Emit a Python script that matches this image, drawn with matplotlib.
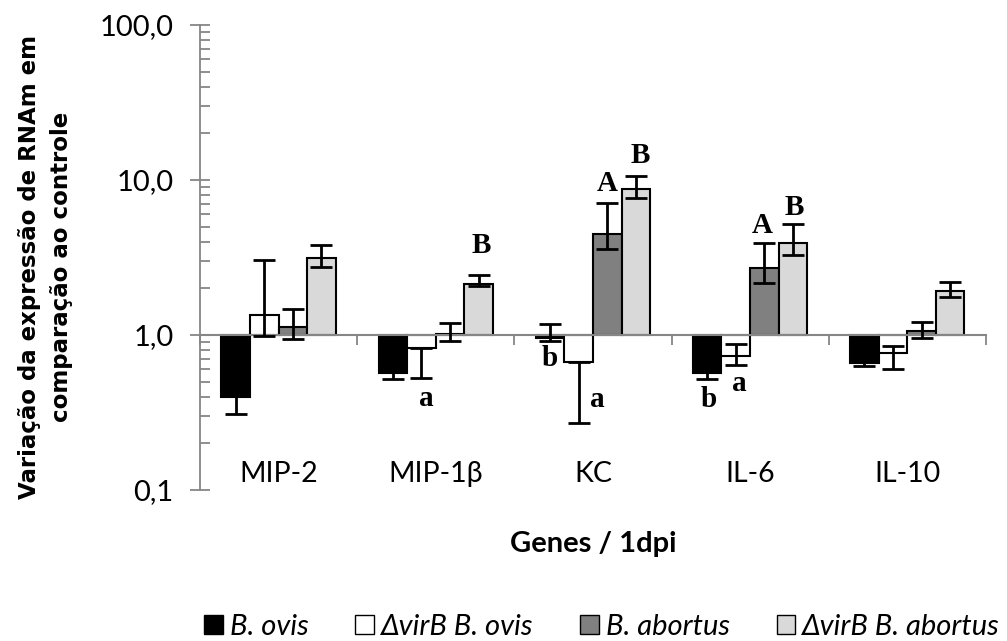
import numpy as np
import matplotlib.pyplot as plt
from matplotlib.patches import Patch
from matplotlib.ticker import FixedLocator, FuncFormatter, LogLocator

plt.rcParams["font.family"] = ["Lato", "DejaVu Sans"]

# Data (fold change vs control)
genes = ["MIP-2", "MIP-1β", "KC", "IL-6", "IL-10"]
series = ["B. ovis", "ΔvirB B. ovis", "B. abortus", "ΔvirB B. abortus"]
colors = ["#000000", "#FFFFFF", "#808080", "#D9D9D9"]

b_ovis = [0.40, 0.57, 0.96, 0.57, 0.66]
virb_ovis = [1.35, 0.82, 0.67, 0.73, 0.77]
b_abortus = [1.12, 1.02, 4.48, 2.69, 1.06]
virb_abortus = [3.15, 2.13, 8.75, 3.91, 1.93]

# error bar ends (low, high) as drawn
err_low = [
    [0.31, 0.52, 0.92, 0.52, 0.63],
    [0.99, 0.53, 0.27, 0.64, 0.60],
    [0.94, 0.91, 3.59, 2.16, 0.95],
    [2.76, 2.08, 7.65, 3.27, 1.77],
]
err_high = [
    [0.49, 0.62, 1.17, 0.62, 0.69],
    [3.05, 0.82, 0.67, 0.875, 0.845],
    [1.48, 1.19, 7.07, 3.92, 1.21],
    [3.83, 2.43, 10.66, 5.18, 2.19],
]

# significance letters: (gene index, slot within group, baseline value, letter)
letters = [
    (1, 3.1, 3.38, "B"), (1, 1.17, 0.35, "a"),
    (2, 0.0, 0.634, "b"), (2, 1.64, 0.341, "a"), (2, 2.0, 8.53, "A"), (2, 3.15, 12.9, "B"),
    (3, 0.07, 0.341, "b"), (3, 1.12, 0.437, "a"), (3, 1.92, 4.55, "A"), (3, 3.05, 5.94, "B"),
]

values = [b_ovis, virb_ovis, b_abortus, virb_abortus]

fig = plt.figure(figsize=(10.07, 6.41), dpi=100)
ax = fig.add_axes([0.1986, 0.2356, 0.7804, 0.7254])

x = np.arange(len(genes))
w = 0.182
axis_gray = "#868686"

for j, vals in enumerate(values):
    pos = x + (j - 1.5) * w
    v = np.array(vals)
    ax.bar(pos, v - 1, bottom=1, width=w, color=colors[j],
           edgecolor="black", linewidth=1.5, zorder=2)
    lo = v - np.array(err_low[j])
    hi = np.array(err_high[j]) - v
    ax.errorbar(pos, v, yerr=[lo, hi], fmt="none", ecolor="black",
                elinewidth=2, capsize=8, capthick=2, zorder=4)

ax.set_yscale("log")
ax.set_ylim(0.1, 100)
ax.set_xlim(-0.5, len(genes) - 0.5)

ax.yaxis.set_major_locator(FixedLocator([0.1, 1, 10, 100]))
ax.yaxis.set_major_formatter(FuncFormatter(lambda v, p: f"{v:.1f}".replace(".", ",")))
ax.yaxis.set_minor_locator(LogLocator(base=10, subs=np.arange(2, 10)))
ax.yaxis.set_minor_formatter(FuncFormatter(lambda v, p: ""))
ax.tick_params(axis="y", which="major", direction="inout", length=14, width=1.3,
               color=axis_gray, labelsize=21, pad=12)
ax.tick_params(axis="y", which="minor", direction="in", length=7, width=1.3,
               color=axis_gray)

ax.spines["top"].set_visible(False)
ax.spines["right"].set_visible(False)
ax.spines["left"].set_color(axis_gray)
ax.spines["left"].set_linewidth(1.3)
ax.spines["bottom"].set_position(("data", 1))
ax.spines["bottom"].set_color(axis_gray)
ax.spines["bottom"].set_linewidth(1.5)
ax.spines["bottom"].set_zorder(3)

ax.set_xticks(np.arange(len(genes) + 1) - 0.5)
ax.set_xticklabels([])
ax.tick_params(axis="x", direction="out", length=7, width=1.3, color=axis_gray)

for i, g in enumerate(genes):
    ax.text(i, 0.113, g, ha="center", va="baseline", fontsize=20.5)

for i, j, yv, t in letters:
    ax.text(i + (j - 1.5) * w, yv, t, ha="center", va="baseline", fontsize=21,
            fontweight="bold", family="Liberation Serif")

fig.text(0.5894, 0.1393, "Genes / 1dpi", ha="center", va="baseline",
         fontsize=21, fontweight="bold")
fig.text(0.0452, 0.583, "Variação da expressão de RNAm em\ncomparação ao controle",
         ha="center", va="center", rotation=90, fontsize=16.5,
         fontweight="bold", linespacing=1.55, family="DejaVu Sans")

handles = [Patch(facecolor=c, edgecolor="black", linewidth=1) for c in colors]
fig.legend(handles, series, loc="center", bbox_to_anchor=(0.598, 0.022), ncol=4,
           frameon=False, prop={"style": "italic", "size": 21},
           handlelength=0.63, handleheight=0.63, handletextpad=0.25,
           columnspacing=1.6, borderpad=0, borderaxespad=0)

fig.savefig("out.png", dpi=100)
